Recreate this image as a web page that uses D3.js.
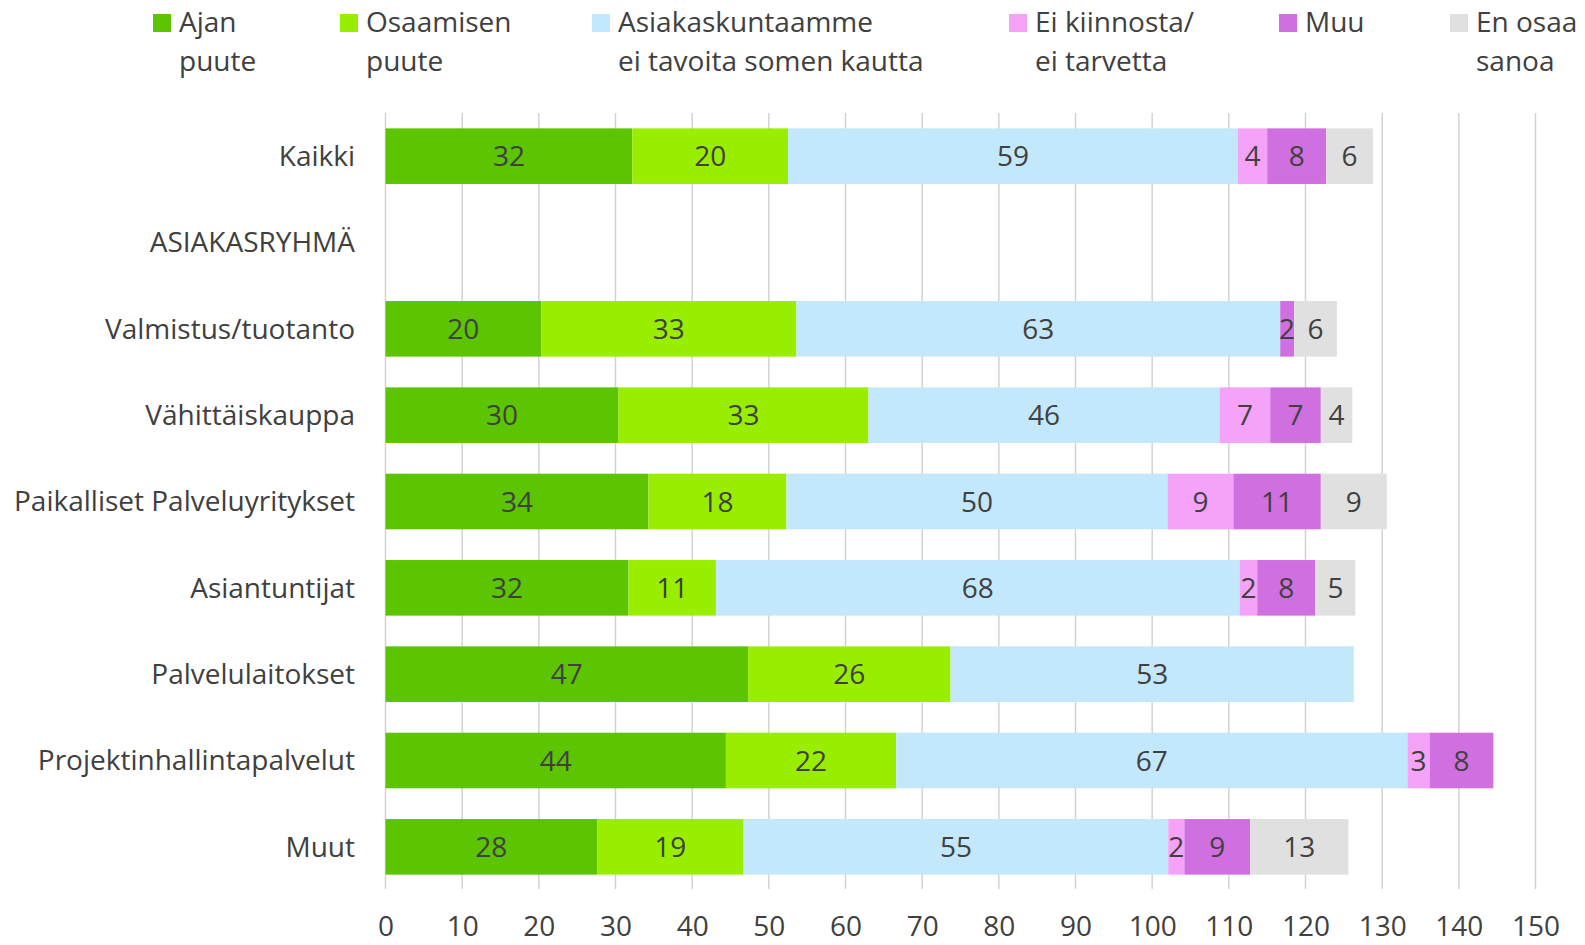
<!DOCTYPE html>
<html><head><meta charset="utf-8">
<script src="https://cdn.jsdelivr.net/npm/d3@7"></script>
<style>body{margin:0;background:#fff}svg{display:block}text{font-family:"Open Sans",Lato,sans-serif;fill:#404040}</style>
</head><body><svg id="c" width="1585" height="945"></svg>
<script>
const categories = ["Kaikki","ASIAKASRYHMÄ","Valmistus/tuotanto","Vähittäiskauppa","Paikalliset Palveluyritykset","Asiantuntijat","Palvelulaitokset","Projektinhallintapalvelut","Muut"];
const seriesNames = [["Ajan","puute"],["Osaamisen","puute"],["Asiakaskuntaamme","ei tavoita somen kautta"],["Ei kiinnosta/","ei tarvetta"],["Muu"],["En osaa","sanoa"]];
const seriesColors = ["#5CC400","#99EE00","#C4E8FB","#F4A3F8","#D070E0","#E0E0E0"];
const ajanPuute      = [32.2, 0, 20.3, 30.4, 34.3, 31.7, 47.3, 44.4, 27.6];
const osaamisenPuute = [20.3, 0, 33.3, 32.6, 18.0, 11.4, 26.4, 22.2, 19.1];
const asiakaskunta   = [58.7, 0, 63.1, 45.8, 49.7, 68.3, 52.6, 66.7, 55.4];
const eiKiinnosta    = [3.8, 0, 0, 6.6, 8.6, 2.3, 0, 2.9, 2.1];
const muu            = [7.7, 0, 1.8, 6.6, 11.4, 7.6, 0, 8.3, 8.6];
const enOsaa         = [6.1, 0, 5.6, 4.1, 8.6, 5.2, 0, 0, 12.8];
const tickValues = [0,10,20,30,40,50,60,70,80,90,100,110,120,130,140,150];

const FS = "28px";
const series = [ajanPuute, osaamisenPuute, asiakaskunta, eiKiinnosta, muu, enOsaa];
const keys = ["s0","s1","s2","s3","s4","s5"];
const rows = categories.map((c,i)=>{const r={cat:c}; series.forEach((s,j)=>r[keys[j]]=s[i]); return r;});
const stacked = d3.stack().keys(keys)(rows);

const svg = d3.select("#c");
const x = d3.scaleLinear().domain([0,150]).range([385.5,1535.5]);
const y = d3.scaleBand().domain(categories).range([113,890]).paddingInner(0.356).paddingOuter(0.178);

// gridlines
svg.append("g").selectAll("line").data(tickValues).join("line")
  .attr("x1",d=>x(d)).attr("x2",d=>x(d)).attr("y1",113).attr("y2",889)
  .attr("stroke","#D0D0D0").attr("stroke-width",1.4);

// x axis labels
const xa = svg.append("g").attr("transform","translate(0,889)")
  .call(d3.axisBottom(x).tickValues(tickValues).tickSize(0).tickPadding(0));
xa.select(".domain").remove();
xa.selectAll("text").attr("y",47).attr("dy",null).style("font-size",FS).style("font-family","Open Sans").attr("fill","#404040");

// category axis
const ya = svg.append("g").attr("transform","translate(355,0)")
  .call(d3.axisLeft(y).tickSize(0).tickPadding(0));
ya.select(".domain").remove();
ya.selectAll("text").attr("dy","0.35em").style("font-size",FS).style("font-family","Open Sans").attr("fill","#404040");

// bars
const g = svg.append("g");
stacked.forEach((layer,j)=>{
  g.append("g").selectAll("rect").data(layer).join("rect")
    .attr("x",d=>x(d[0])).attr("width",d=>x(d[1])-x(d[0]))
    .attr("y",d=>y(d.data.cat)).attr("height",y.bandwidth())
    .attr("fill",seriesColors[j]);
});
stacked.forEach((layer,j)=>{
  g.append("g").selectAll("text").data(layer.filter(d=>d[1]-d[0]>0)).join("text")
    .attr("x",d=>(x(d[0])+x(d[1]))/2).attr("y",d=>y(d.data.cat)+y.bandwidth()/2)
    .attr("dy","0.36em").attr("text-anchor","middle")
    .style("font-size",FS).text(d=>d3.format(".0f")(d[1]-d[0]));
});

// legend
const legendX = [153,340,592,1009,1279,1450];
const lg = svg.append("g");
seriesNames.forEach((lines,j)=>{
  lg.append("rect").attr("x",legendX[j]).attr("y",14).attr("width",18).attr("height",18).attr("fill",seriesColors[j]);
  const t = lg.append("text").attr("x",legendX[j]+26).attr("y",32).style("font-size",FS);
  lines.forEach((l,k)=>t.append("tspan").attr("x",legendX[j]+26).attr("y",32+39*k).text(l));
});
</script></body></html>
